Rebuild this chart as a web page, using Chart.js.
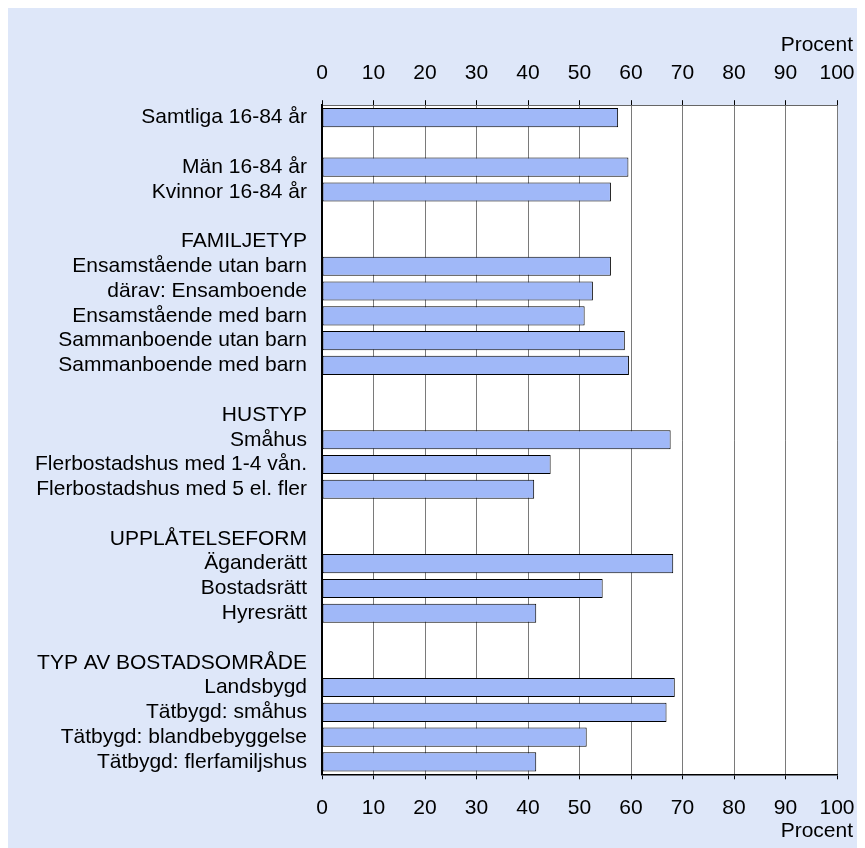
<!DOCTYPE html>
<html>
<head>
<meta charset="utf-8">
<script src="https://cdn.jsdelivr.net/npm/chart.js@4/dist/chart.umd.min.js"></script>
<style>
    body { margin: 8px; background: #ffffff; }
    #wrap { width: 857px; height: 840px; background: #dee7f9; }
</style>
</head>
<body>
<div id="wrap"><canvas id="myChart"></canvas></div>
<script>
const labels = [
    'Samtliga 16-84 år',
    '',
    'Män 16-84 år',
    'Kvinnor 16-84 år',
    '',
    'FAMILJETYP',
    'Ensamstående utan barn',
    'därav: Ensamboende',
    'Ensamstående med barn',
    'Sammanboende utan barn',
    'Sammanboende med barn',
    '',
    'HUSTYP',
    'Småhus',
    'Flerbostadshus med 1-4 vån.',
    'Flerbostadshus med 5 el. fler',
    '',
    'UPPLÅTELSEFORM',
    'Äganderätt',
    'Bostadsrätt',
    'Hyresrätt',
    '',
    'TYP AV BOSTADSOMRÅDE',
    'Landsbygd',
    'Tätbygd: småhus',
    'Tätbygd: blandbebyggelse',
    'Tätbygd: flerfamiljshus',
];

// null = empty row or group heading
const values = [
    57.5,
    null,
    59.5,
    56.1,
    null,
    null,
    56.1,
    52.6,
    51.0,
    58.8,
    59.6,
    null,
    null,
    67.7,
    44.4,
    41.2,
    null,
    null,
    68.2,
    54.5,
    41.6,
    null,
    null,
    68.5,
    66.9,
    51.4,
    41.6,
];

const tickValues = [0, 10, 20, 30, 40, 50, 60, 70, 80, 90, 100];
const axisTitle = 'Procent';

const font = { family: "'Liberation Sans', Arial, sans-serif", size: 21 };
const setTicks = (scale) => {
    scale.ticks = tickValues.map(v => ({ value: v }));
};
// let the layout padding alone decide the left/right edges of the plot
const noSidePadding = (scale) => {
    scale.paddingLeft = 0;
    scale.paddingRight = 0;
};

// white plot area + the two "Procent" titles, right edge lined up with "100"
const plotArea = {
    id: 'plotArea',
    beforeDraw(chart) {
        const { ctx, chartArea: a } = chart;
        ctx.save();
        ctx.fillStyle = '#ffffff';
        ctx.fillRect(a.left, a.top, a.right - a.left, a.bottom - a.top);
        ctx.restore();
    },
    afterDraw(chart) {
        const { ctx, chartArea: a } = chart;
        ctx.save();
        ctx.font = font.size + 'px ' + font.family;
        ctx.fillStyle = '#000000';
        ctx.textAlign = 'right';
        ctx.textBaseline = 'middle';
        ctx.fillText(axisTitle, a.right + 16, 37);
        ctx.fillText(axisTitle, a.right + 16, chart.height - 17);
        ctx.restore();
    }
};

const data = {
    labels: labels,
    datasets: [{
        label: axisTitle,
        data: values,
        xAxisID: 'x',
        backgroundColor: '#a0b8f8',
        borderColor: '#000000',
        borderWidth: 1,
        borderSkipped: false,
        categoryPercentage: 1,
        barPercentage: 0.77,
    }]
};

const config = {
    type: 'bar',
    data: data,
    plugins: [plotArea],
    options: {
        indexAxis: 'y',
        responsive: true,
        maintainAspectRatio: false,
        animation: false,
        layout: { padding: { top: 38, right: 28, bottom: 11.5, left: 0 } },
        plugins: {
            legend: { display: false },
            tooltip: { enabled: false },
        },
        scales: {
            x: {
                position: 'top',
                min: 0,
                max: 100,
                afterBuildTicks: setTicks,
                afterFit: noSidePadding,
                grid: { color: '#7a7a7a', tickColor: '#000000', tickLength: 5 },
                border: { color: '#666666', width: 1 },
                ticks: { color: '#000000', font: font, padding: 14.5, maxRotation: 0, autoSkip: false },
            },
            x2: {
                type: 'linear',
                position: 'bottom',
                min: 0,
                max: 100,
                afterBuildTicks: setTicks,
                afterFit: noSidePadding,
                grid: { drawOnChartArea: false, tickColor: '#000000', tickLength: 5 },
                border: { color: '#000000', width: 1.5 },
                ticks: { color: '#000000', font: font, padding: 16, maxRotation: 0, autoSkip: false },
            },
            y: {
                grid: { display: false, drawTicks: false },
                border: { color: '#000000', width: 2 },
                ticks: { color: '#000000', font: font, padding: 15, autoSkip: false },
                afterFit: (scale) => { scale.width = 314; },
            },
        },
    },
};

const myChart = new Chart(
    document.getElementById('myChart'),
    config
);
</script>
</body>
</html>
